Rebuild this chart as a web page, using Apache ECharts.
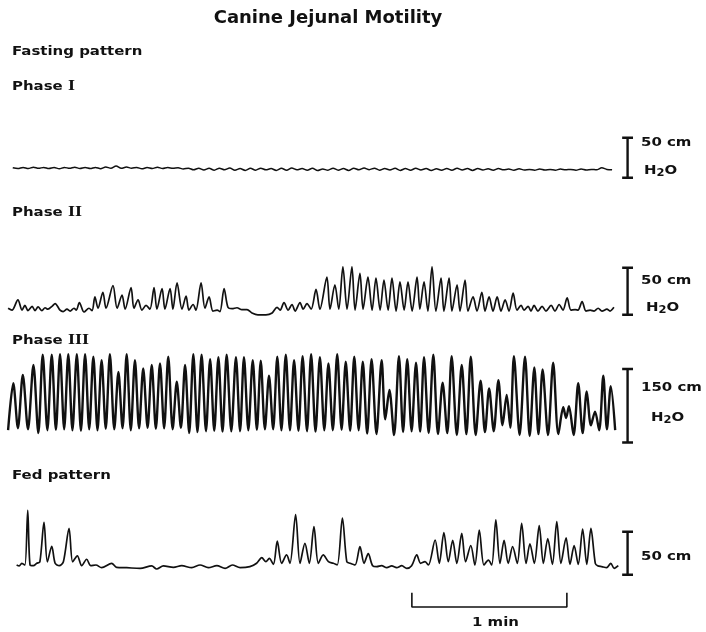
<!DOCTYPE html>
<html><head><meta charset="utf-8">
<script src="https://cdn.jsdelivr.net/npm/echarts@6/dist/echarts.min.js"></script>
<style>html,body{margin:0;padding:0;background:#fff}#c{width:706px;height:632px}</style>
</head><body><div id="c"></div>
<script>
// ---------- DATA (time in s, pressure in cm H2O) ----------
const phase1Start = 3, phase1Step = 2;
const phase1Values = [
 1.5,0.5,2,0.5,2.2,0.8,2,0.5,1.8,0.3,
 2,0.8,2.2,0.5,1.8,0.6,2,0.4,2.5,1,
 3.8,0.8,2.5,1,2,0.2,1.8,0.5,2.2,0.6,
 1.8,0.8,1.5,0,1,-1,1,-1.2,0.8,-1.5,
 1,-1,1.2,-1.5,0.5,-1.8,0.8,-1.5,1,-1,
 0.5,-1.8,0.8,-1.5,1.2,-1,0.5,-1.5,0.8,-2,
 0,-1.5,1,-1.5,0.5,-1.8,1,-1,1.2,-0.8,
 1,-1.5,0.5,-1.2,0.8,-1.8,0.5,-1.5,0.8,-1.2,
 0.5,-1.8,0.2,-1.5,0.5,-1.5,0.8,-1.2,0.5,-1.8,
 0.5,-1.2,0.2,-1.5,0.5,-1,0,-1.5,0.2,-1.2,
 -0.5,-1.5,0,-1.2,-0.5,-1.5,0,-1,-0.5,-1.5,
 0,-1.2,-0.5,-1,1.5,-0.5,-1
];
const phase2Points = [
 [1.2,4],[2.7,2],[5.0,13],[6.6,2],[7.7,7],[8.9,1.5],[10.5,6],[11.6,1.5],[12.8,5.5],[14.3,1.5],
 [15.5,4.5],[16.6,3],[18.2,6],[19.4,9],[21.3,2],[22.5,0.5],[24.0,3],[25.2,1],[26.7,4],[27.6,2],
 [28.8,10],[30.6,0],[32.5,4],[33.7,1.5],[34.8,16],[36.0,4],[37.9,21],[39.1,4],[41.8,28],[43.4,4],
 [45.3,18],[46.5,3],[48.8,26],[49.9,4],[51.5,13],[53.0,2],[54.6,7],[56.1,3],[57.7,26],[58.8,3],
 [60.8,25],[61.9,3],[63.9,25],[65.0,3],[66.6,31],[68.5,3],[70.1,17],[71.2,2],[72.8,8],[73.9,2],
 [75.9,31],[77.4,4],[79.0,16],[80.5,1],[82.1,2],[83.2,0.5],[84.8,25],[86.3,5],[87.9,3.5],[89.8,4.5],
 [91.7,2.5],[93.7,2.5],[95.6,-1],[97.9,-3],[101.0,-3],[103.4,-1],[105.3,5],[106.5,2],[108.0,10],[109.6,2],
 [111.1,8],[112.3,1],[114.2,10],[115.4,3],[116.9,9],[118.5,3],[120.4,24],[121.9,3],[124.6,37],[125.8,3],
 [127.7,29],[129.2,3],[130.8,48],[132.4,3],[134.3,48],[135.5,2],[137.4,41],[138.6,3],[140.5,37],[142.1,2],
 [143.6,36],[145.2,2],[146.7,34],[148.3,2],[149.8,36],[151.4,1],[152.9,32],[154.5,2],[156.0,32],[157.6,1],
 [159.5,37],[160.6,3],[162.2,32],[163.7,1],[165.3,48],[166.8,1],[168.8,36],[169.9,1],[171.9,36],[173.0,1],
 [175.0,29],[176.1,1],[178.1,34],[179.2,1],[181.2,16],[182.7,1],[184.6,21],[185.8,1],[187.4,16],[188.9,1],
 [190.5,16],[192.0,1],[193.6,13],[195.1,1],[196.7,20],[198.2,2],[199.8,7],[200.9,2],[202.5,6],[203.6,1],
 [204.8,7],[206.3,1],[207.9,6],[209.4,1],[211.4,7],[212.9,1],[214.5,8],[216.0,2],[217.6,15],[219.1,2],
 [220.7,2.5],[221.8,2],[223.4,11],[224.9,1],[226.5,2],[228.0,1],[229.6,4],[231.1,1],[233.0,3],[234.2,1],
 [235.7,5]
];
const phase3Points = [
 [1.2,20],[3.2,116],[5.0,24],[6.9,133],[8.9,22],[11.0,153],[12.9,14],[14.6,174],[16.4,20],[18.1,174],
 [19.7,21],[21.3,175],[22.9,22],[24.5,175],[26.1,20],[27.8,175],[29.4,19],[31.0,175],[32.6,22],[34.2,170],
 [35.8,20],[37.4,163],[39.0,23],[40.6,175],[42.3,22],[43.9,139],[45.5,24],[47.1,175],[48.7,20],[50.3,163],
 [51.9,24],[53.5,146],[55.2,25],[56.8,153],[58.4,23],[60.0,156],[61.6,24],[63.2,170],[64.9,22],[66.5,119],
 [68.1,25],[69.7,153],[71.3,14],[72.9,175],[74.5,16],[76.1,174],[77.8,18],[79.4,165],[81.0,19],[82.6,169],
 [84.2,17],[85.8,174],[87.6,18],[89.4,169],[91.0,18],[92.5,169],[94.2,20],[95.9,163],[97.5,21],[99.0,162],
 [100.6,22],[102.2,131],[103.8,22],[105.4,170],[107.0,20],[108.7,174],[110.3,20],[111.9,163],[113.6,19],[115.2,171],
 [116.9,18],[118.5,175],[120.2,17],[121.9,169],[123.6,20],[125.2,156],[126.9,20],[128.6,175],[130.3,21],[131.9,160],
 [133.6,19],[135.2,170],[136.9,20],[138.5,160],[140.2,13],[141.9,165],[143.8,12],[145.8,163],[147.2,42],[148.8,102],
 [150.6,10],[152.5,171],[154.1,16],[155.7,165],[157.4,18],[159.1,158],[160.7,17],[162.2,169],[164.0,14],[165.8,174],
 [167.6,12],[169.4,117],[171.2,14],[172.9,171],[174.9,10],[176.8,153],[178.6,12],[180.3,170],[182.2,10],[184.1,121],
 [185.8,16],[187.4,105],[189.2,18],[191.0,122],[192.6,30],[194.2,92],[195.6,25],[197.0,171],[199.2,10],[201.3,170],
 [203.1,8],[204.9,148],[206.5,12],[208.1,144],[210.2,10],[212.2,158],[214.2,12],[216.1,67],[217.2,45],[218.3,69],
 [220.1,10],[221.9,116],[223.6,14],[225.2,99],[226.8,30],[228.4,58],[230.0,20],[231.6,131],[233.0,22],[234.5,110],
 [236.2,20]
];
const fedPoints = [
 [4.5,2.3],[5.5,1.2],[6.5,4.3],[7.7,2.3],[8.8,66],[9.7,2.3],[11.0,1.5],[12.3,4.3],[13.5,6],[15.1,52],
 [16.4,6],[18.1,24],[19.4,4.3],[21.0,1.5],[22.6,6],[24.8,45],[26.2,6],[28.0,13],[29.7,1.5],[31.6,9],
 [33.2,1.5],[35.2,2.3],[37.4,-0.8],[41.3,4.3],[43.2,-0.4],[47.1,-0.8],[52.3,-1.6],[56.8,1.2],[58.7,-2.3],[61.3,1.2],
 [65.2,-0.4],[68.4,1.5],[72.3,-0.8],[75.5,2.3],[78.7,-0.8],[82.0,1.5],[85.2,-1.6],[88.0,2.3],[91.0,-0.8],[94.8,0.4],
 [97.4,4.3],[99.4,10.8],[101.0,6.2],[102.3,10],[103.9,3.1],[105.4,30],[107.1,4.3],[109.0,14],[110.3,4.3],[112.5,61],
 [114.2,4.3],[116.1,27.5],[117.8,4.3],[119.6,47],[121.3,4.3],[123.2,14],[125.2,6.2],[127.1,4.3],[128.6,2.3],[130.6,57],
 [132.3,6.2],[133.6,4.3],[135.5,2.3],[137.4,23.6],[139.0,4.3],[140.6,15.5],[142.3,1.5],[143.9,0.4],[145.8,1.5],[147.8,-0.8],
 [149.7,1.2],[151.6,-0.8],[153.6,1.5],[155.5,-1.6],[157.4,1.5],[159.4,14],[160.9,4.3],[162.6,6.2],[163.9,2.3],[166.5,31.4],
 [168.1,4.3],[169.9,40],[171.6,6.2],[173.3,31],[174.9,4.3],[176.8,39],[178.3,6.2],[180.3,25],[181.9,2.3],[183.6,43],
 [185.4,2.3],[187.1,8],[188.4,2.3],[190.0,54.7],[191.6,4.3],[193.2,31],[194.8,4.3],[196.5,23.6],[198.3,4.3],[200.0,50.8],
 [201.7,4.3],[203.2,27],[204.9,4.3],[206.8,48],[208.4,4.3],[210.1,33],[211.9,3.1],[213.6,52.7],[215.2,4.3],[217.2,34],
 [218.7,3.1],[220.3,25],[221.9,3.1],[223.6,44],[225.2,3.1],[226.8,44.8],[228.5,4.3],[229.4,1.5],[231.0,0.4],[232.9,-0.8],
 [234.5,4.3],[235.8,-1.6],[237.4,1.5]
];
const scaleLengths = [50, 50, 150, 50];     // cm H2O
const scaleLabels = ['50 cm', '50 cm', '150 cm', '50 cm'];
const timeBarSeconds = 60;
const timeBarLabel = '1 min';

// ---------- LAYOUT ----------
const pxPerSec = 155 / 60;
const xMax = 245;
const gridLeft = 5;
const panels = [
  {base: 169, pxPerCm: 0.80, ymin: -20, ymax: 45,  width: 1.5, barBottom: -11},
  {base: 312, pxPerCm: 0.94, ymin: -10, ymax: 55,  width: 1.7, barBottom: -3},
  {base: 440, pxPerCm: 0.49, ymin: -12, ymax: 185, width: 2.4, barBottom: -5},
  {base: 567, pxPerCm: 0.86, ymin: -55, ymax: 75,  width: 1.7, barBottom: -9}
];
const barT = 241, capHalf = 2.1;
const timeBarStart = 157.5, timeBarLow = -46.5, timeBarTick = -30;

const phase1Points = phase1Values.map((v, i) => [phase1Start + i * phase1Step, v]);
const traces = [phase1Points, phase2Points, phase3Points, fedPoints];

const grids = [], xAxes = [], yAxes = [], series = [];
panels.forEach((pn, i) => {
  grids.push({left: gridLeft, width: xMax * pxPerSec, top: pn.base - pn.ymax * pn.pxPerCm,
              height: (pn.ymax - pn.ymin) * pn.pxPerCm});
  xAxes.push({type: 'value', gridIndex: i, min: 0, max: xMax, show: false});
  yAxes.push({type: 'value', gridIndex: i, min: pn.ymin, max: pn.ymax, show: false});
  series.push({type: 'line', xAxisIndex: i, yAxisIndex: i, data: traces[i], showSymbol: false,
               smooth: 0.3, lineStyle: {color: '#111', width: pn.width}, silent: true});
  const b0 = pn.barBottom, b1 = pn.barBottom + scaleLengths[i];
  series.push({type: 'line', xAxisIndex: i, yAxisIndex: i, showSymbol: false, clip: false, silent: true,
               data: [[barT - capHalf, b1], [barT + capHalf, b1], [barT, b1], [barT, b0],
                      [barT - capHalf, b0], [barT + capHalf, b0]],
               lineStyle: {color: '#111', width: 2.4}});
});
series.push({type: 'line', xAxisIndex: 3, yAxisIndex: 3, showSymbol: false, clip: false, silent: true,
  data: [[timeBarStart, timeBarTick], [timeBarStart, timeBarLow],
         [timeBarStart + timeBarSeconds, timeBarLow], [timeBarStart + timeBarSeconds, timeBarTick]],
  lineStyle: {color: '#111', width: 1.6}});

const F = '"DejaVu Sans", sans-serif';
const romanRich = {r: {fontFamily: '"DejaVu Serif", "Liberation Serif", serif', fontWeight: 'bold', fontSize: 13, fill: '#111'}};
function label(text, x, y, extra) {
  return Object.assign({type: 'text', x: x, y: y, scaleX: 1.15, silent: true,
    style: {text: text, font: 'bold 13px ' + F, fill: '#111', align: 'left', verticalAlign: 'middle', rich: romanRich}}, extra || {});
}
const h2oRich = {s: {fontFamily: F, fontWeight: 'bold', fontSize: 10, fill: '#111', padding: [5, 0, 0, 0]}};
function h2o(x, y) {
  return {type: 'text', x: x, y: y, scaleX: 1.15, silent: true,
    style: {text: 'H{s|2}O', font: 'bold 13px ' + F, fill: '#111', align: 'left', verticalAlign: 'middle', rich: h2oRich}};
}
const graphic = [
  {type: 'text', x: 328, y: 18, silent: true,
   style: {text: 'Canine Jejunal Motility', font: 'bold 18px ' + F, fill: '#111', align: 'center', verticalAlign: 'middle'}},
  label('Fasting pattern', 12, 52),
  label('Phase {r|I}', 12, 87),
  label('Phase {r|II}', 12, 213),
  label('Phase {r|III}', 12, 341),
  label('Fed pattern', 12, 476),
  label(scaleLabels[0], 641, 143), h2o(644, 171),
  label(scaleLabels[1], 641, 281), h2o(646, 308),
  label(scaleLabels[2], 641, 388), h2o(651, 418),
  label(scaleLabels[3], 641, 557),
  label(timeBarLabel, 472, 623)
];

const chart = echarts.init(document.getElementById('c'), null, {renderer: 'canvas'});
chart.setOption({animation: false, backgroundColor: '#fff', grid: grids, xAxis: xAxes, yAxis: yAxes,
                 series: series, graphic: graphic});
</script></body></html>
